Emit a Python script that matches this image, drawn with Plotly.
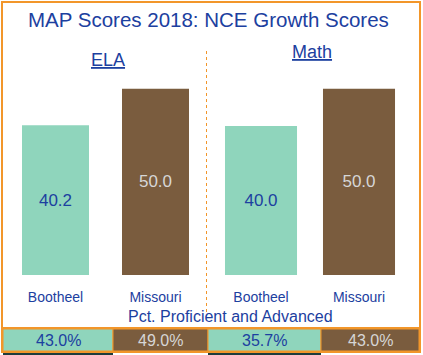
import plotly.graph_objects as go

categories = ["Bootheel", "Missouri"]
ela_scores = [40.2, 50.0]
math_scores = [40.0, 50.0]
pct_labels = ["43.0%", "49.0%", "35.7%", "43.0%"]
title_text = "MAP Scores 2018: NCE Growth Scores"
subject_titles = ["ELA", "Math"]
table_title = "Pct. Proficient and Advanced"

TEAL = "#8fd5bc"
BROWN = "#7a5c3e"
BLUE = "#1c40a0"
LIGHT = "#d6d6d6"
ORANGE = "#f2962a"
DARK = "#1e3c3c"
FONT = "Liberation Sans Narrow, Arial Narrow, Liberation Sans, Arial, sans-serif"
W, H = 423, 355

def px(x):
    return x / W

def py(y):
    return (H - y) / H

fig = go.Figure()
for vals, xa in [(ela_scores, "x"), (math_scores, "x2")]:
    fig.add_trace(go.Bar(
        x=categories, y=vals, xaxis=xa, yaxis="y",
        marker=dict(color=[TEAL, BROWN], line=dict(width=0)),
        texttemplate="%{y:.1f}", textposition="inside", insidetextanchor="middle",
        textfont=dict(color=[BLUE, LIGHT], size=17, family=FONT),
        textangle=0, showlegend=False, hoverinfo="skip",
    ))

axis_common = dict(showgrid=False, zeroline=False, showline=False, ticks="",
                   tickfont=dict(color=BLUE, size=14, family=FONT),
                   ticklabelstandoff=12, fixedrange=True)
fig.update_layout(
    width=W, height=H, margin=dict(l=0, r=0, t=0, b=0),
    paper_bgcolor="white", plot_bgcolor="white",
    xaxis=dict(domain=[px(5.5), px(205.5)], range=[-0.5, 1.5], **axis_common),
    xaxis2=dict(domain=[px(212), px(408)], range=[-0.5, 1.5], anchor="y", **axis_common),
    yaxis=dict(domain=[py(275), py(70)], range=[0, 55], visible=False, fixedrange=True),
)
fig.update_traces(width=0.67, selector=dict(xaxis="x"))
fig.update_traces(width=0.735, selector=dict(xaxis="x2"))

def note(text, x, y, size, color=BLUE):
    return dict(text=text, x=px(x), y=py(y), xref="paper", yref="paper",
                xanchor="center", yanchor="middle", showarrow=False,
                font=dict(color=color, size=size, family=FONT))

ann = [
    note(title_text, 208, 19, 20.5),
    note("<u>" + subject_titles[0] + "</u>", 108, 60, 18),
    note("<u>" + subject_titles[1] + "</u>", 312, 52, 18),
    note(table_title, 230, 316, 16),
]

cells = [(3, 113, TEAL, BLUE), (113, 208, BROWN, LIGHT), (208, 321, TEAL, BLUE), (321, 419, BROWN, LIGHT)]
shapes = []
for (x0, x1, fill, tc), lab in zip(cells, pct_labels):
    shapes.append(dict(type="rect", xref="paper", yref="paper", x0=px(x0), x1=px(x1),
                       y0=py(351), y1=py(329), fillcolor=fill, line=dict(width=1, color=ORANGE), layer="below"))
    ann.append(note(lab, (x0 + x1) / 2, 340, 16, tc))
    if fill == TEAL:
        shapes.append(dict(type="rect", xref="paper", yref="paper", x0=px(x0), x1=px(x1),
                           y0=py(355), y1=py(353), fillcolor=DARK, line=dict(width=0)))
# outer frame
shapes.append(dict(type="rect", xref="paper", yref="paper", x0=px(2), x1=px(420), y0=py(352), y1=py(2),
                   line=dict(width=2, color=ORANGE), fillcolor="rgba(0,0,0,0)"))
shapes.append(dict(type="line", xref="paper", yref="paper", x0=px(2), x1=px(420), y0=py(328), y1=py(328),
                   line=dict(width=2, color=ORANGE)))
# dotted divider
shapes.append(dict(type="line", xref="paper", yref="paper", x0=px(206.5), x1=px(206.5), y0=py(51), y1=py(312),
                   line=dict(width=1, color=ORANGE, dash="dot")))
fig.update_layout(annotations=ann, shapes=shapes)

fig.write_html("out.html", config={"displayModeBar": False},
               post_script="document.body.style.margin='0';document.body.style.overflow='hidden';")
